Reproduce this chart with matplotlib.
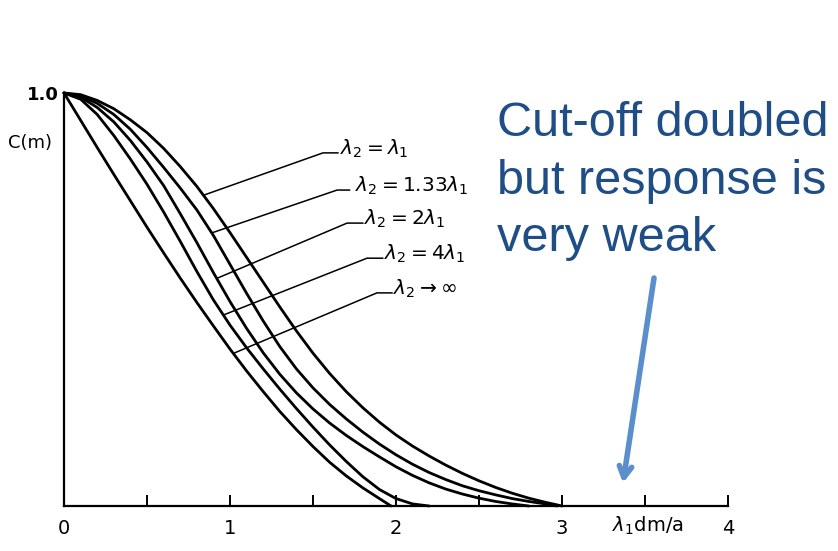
import numpy as np
import matplotlib
matplotlib.use("Agg")
import matplotlib.pyplot as plt

# Contrast transfer C(m) versus normalised spatial frequency lambda1*d*m/a
freq_ratio_1 = [0.0, 0.1, 0.2, 0.3, 0.4, 0.5, 0.6, 0.7, 0.8, 0.9, 1.0, 1.1, 1.2, 1.3, 1.4, 1.5,
                1.6, 1.7, 1.8, 1.9, 2.0, 2.1, 2.2, 2.3, 2.4, 2.5, 2.6, 2.7, 2.8, 2.9, 3.0]
contrast_1 = [1.0, 0.996, 0.982, 0.962, 0.935, 0.904, 0.866, 0.822, 0.774, 0.72, 0.662, 0.602,
              0.542, 0.482, 0.424, 0.370, 0.321, 0.277, 0.238, 0.203, 0.172, 0.145, 0.121,
              0.099, 0.079, 0.061, 0.045, 0.031, 0.019, 0.009, 0.0]

freq_ratio_133 = [0.0, 0.1, 0.2, 0.3, 0.4, 0.5, 0.6, 0.7, 0.8, 0.9, 1.0, 1.1, 1.2, 1.3, 1.4, 1.5,
                  1.6, 1.7, 1.8, 1.9, 2.0, 2.1, 2.2, 2.3, 2.4, 2.5, 2.6, 2.7, 2.8, 2.9, 2.97]
contrast_133 = [1.0, 0.993, 0.975, 0.948, 0.912, 0.868, 0.82, 0.77, 0.717, 0.655, 0.585, 0.515,
                0.448, 0.386, 0.332, 0.286, 0.246, 0.211, 0.179, 0.15, 0.124, 0.101, 0.081,
                0.064, 0.049, 0.037, 0.027, 0.018, 0.011, 0.005, 0.0]

freq_ratio_2 = [0.0, 0.1, 0.2, 0.3, 0.4, 0.5, 0.6, 0.7, 0.8, 0.9, 1.0, 1.1, 1.2, 1.3, 1.4, 1.5,
                1.6, 1.7, 1.8, 1.9, 2.0, 2.1, 2.2, 2.3, 2.4, 2.5, 2.6, 2.7, 2.8]
contrast_2 = [1.0, 0.99, 0.965, 0.93, 0.885, 0.833, 0.776, 0.708, 0.638, 0.565, 0.495, 0.43,
              0.371, 0.319, 0.274, 0.235, 0.201, 0.171, 0.144, 0.119, 0.095, 0.074, 0.056,
              0.041, 0.029, 0.019, 0.011, 0.005, 0.0]

freq_ratio_4 = [0.0, 0.1, 0.2, 0.3, 0.4, 0.5, 0.6, 0.7, 0.8, 0.9, 1.0, 1.1, 1.2, 1.3, 1.4, 1.5,
                1.6, 1.7, 1.8, 1.9, 2.0, 2.1, 2.2]
contrast_4 = [1.0, 0.985, 0.948, 0.897, 0.84, 0.779, 0.712, 0.641, 0.568, 0.499, 0.438, 0.383,
              0.332, 0.283, 0.236, 0.191, 0.148, 0.108, 0.071, 0.04, 0.018, 0.005, 0.0]

freq_ratio_inf = [0.0, 0.1, 0.2, 0.3, 0.4, 0.5, 0.6, 0.7, 0.8, 0.9, 1.0, 1.1, 1.2, 1.3, 1.4,
                  1.5, 1.6, 1.7, 1.8, 1.9, 1.97]
contrast_inf = [1.0, 0.934, 0.868, 0.803, 0.739, 0.675, 0.613, 0.552, 0.493, 0.436, 0.38, 0.327,
                0.277, 0.229, 0.185, 0.144, 0.106, 0.073, 0.044, 0.018, 0.0]

curve_labels = [r"$\lambda_2 = \lambda_1$", r"$\lambda_2 = 1.33\lambda_1$",
                r"$\lambda_2 = 2\lambda_1$", r"$\lambda_2 = 4\lambda_1$",
                r"$\lambda_2 \rightarrow \infty$"]
x_tick_values = [0, 1, 2, 3, 4]
x_tick_labels = ["0", "1", "2", "3", "4"]

curves = [(freq_ratio_1, contrast_1), (freq_ratio_133, contrast_133),
          (freq_ratio_2, contrast_2), (freq_ratio_4, contrast_4),
          (freq_ratio_inf, contrast_inf)]

W, H = 838, 551
fig = plt.figure(figsize=(W / 100, H / 100), dpi=100)
ax = fig.add_axes([64 / W, 1 - 506 / H, (728 - 64) / W, (506 - 93) / H])
ax.set_xlim(0, 4)
ax.set_ylim(0, 1.0)
ax.patch.set_alpha(0)

for fx, cy in curves:
    ax.plot(fx, cy, color="black", lw=2.0, solid_joinstyle="round",
            solid_capstyle="round", clip_on=False)

# leader lines from each curve to its label
leader_x = [0.84, 0.89, 0.92, 0.96, 1.02]
elbows = [(1.56, 0.855), (1.645, 0.765), (1.705, 0.685), (1.825, 0.600), (1.885, 0.516)]
ends = [1.65, 1.72, 1.80, 1.92, 1.976]
label_x = [1.66, 1.75, 1.81, 1.93, 1.98]
for (fx, cy), lx, (ex, ey), end, tx, lab in zip(curves, leader_x, elbows, ends, label_x, curve_labels):
    ly = np.interp(lx, fx, cy)
    ax.plot([lx, ex, end], [ly, ey, ey], color="black", lw=1.1, clip_on=False)
    ax.text(tx, ey + 0.01, lab, fontsize=14.5, ha="left", va="center", color="black")

# axes styling
for side in ("top", "right"):
    ax.spines[side].set_visible(False)
ax.spines["left"].set_linewidth(1.6)
ax.spines["bottom"].set_linewidth(1.6)
ticks = np.arange(0, 4.01, 0.5)
ax.set_xticks(ticks)
ax.set_xticklabels([x_tick_labels[x_tick_values.index(int(v))] if v == int(v) else ""
                    for v in ticks],
                   family=["Liberation Sans Narrow", "DejaVu Sans"], fontsize=14)
ax.tick_params(axis="x", direction="in", length=8, width=1.4, pad=9)
ax.set_yticks([1.0])
ax.set_yticklabels(["1.0"], family=["Liberation Sans Narrow", "DejaVu Sans"],
                   fontsize=13, fontweight="bold")
ax.tick_params(axis="y", length=0, pad=4)

ax.text(-0.07, 0.879, "C(m)", transform=ax.transData, ha="right", va="center",
        family=["Liberation Sans Narrow", "DejaVu Sans"], fontsize=13)
fig.text(648 / W, 1 - 526 / H, r"$\lambda_1$dm/a", ha="center", va="center",
         family=["Liberation Sans Narrow", "DejaVu Sans"], fontsize=14)

# annotation
fig.text(497 / W, 1 - 101 / H, "Cut-off doubled\nbut response is\nvery weak",
         ha="left", va="top", color="#1F4E86", fontsize=35,
         family=["Liberation Sans", "DejaVu Sans"], linespacing=1.36)
ax.annotate("", xy=(623 / W, 1 - 483 / H), xytext=(654 / W, 1 - 278 / H),
            xycoords="figure fraction", textcoords="figure fraction",
            arrowprops=dict(arrowstyle="->,head_length=0.8,head_width=0.45",
                            color="#5B8FCB", lw=4, shrinkA=0, shrinkB=0))

fig.savefig("out.png", dpi=100)
